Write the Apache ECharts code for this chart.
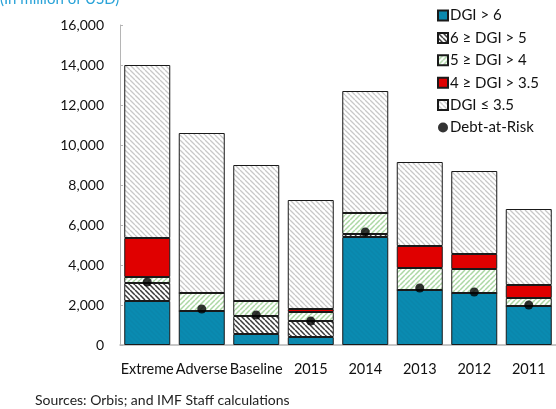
<!DOCTYPE html>
<html>
<head>
<meta charset="utf-8">
<script src="https://cdn.jsdelivr.net/npm/echarts@6/dist/echarts.min.js"></script>
<style>
  html, body { margin: 0; padding: 0; background: #fff; }
  #chart { width: 556px; height: 409px; }
</style>
</head>
<body>
<div id="chart"></div>
<script>
// data, in million of USD
var categories = ['Extreme', 'Adverse', 'Baseline', '2015', '2014', '2013', '2012', '2011'];
var dgiAbove6 = [2200, 1700, 550, 400, 5400, 2750, 2600, 1950];
var dgi5to6 = [900, 0, 900, 800, 150, 0, 0, 0];
var dgi4to5 = [300, 900, 750, 450, 1050, 1100, 1200, 400];
var dgi35to4 = [1950, 0, 0, 150, 0, 1100, 750, 650];
var dgiBelow35 = [8650, 8000, 6800, 5450, 6100, 4200, 4150, 3800];
var debtAtRisk = [3150, 1800, 1500, 1200, 5650, 2850, 2650, 2000];
var yTicks = [0, 2000, 4000, 6000, 8000, 10000, 12000, 14000, 16000];

var font = 'Lato, "Open Sans", sans-serif';

// small canvas tiles for the hatched fills
function stripes(bg, fg, dir, width) {
    var s = 5;
    var c = document.createElement('canvas');
    c.width = s; c.height = s;
    var ctx = c.getContext('2d');
    ctx.fillStyle = bg;
    ctx.fillRect(0, 0, s, s);
    ctx.strokeStyle = fg;
    ctx.lineWidth = width;
    ctx.beginPath();
    for (var k = -2; k <= 2; k++) {
        if (dir > 0) {
            ctx.moveTo(k * s, s); ctx.lineTo(k * s + s, 0);
        } else {
            ctx.moveTo(k * s, 0); ctx.lineTo(k * s + s, s);
        }
    }
    ctx.stroke();
    return { image: c, repeat: 'repeat' };
}

var blueFill = stripes('#0a8bb1', '#0b86ab', -1, 1.4);
var blackHatch = stripes('#ffffff', '#3a3a3a', -1, 1.5);
var greenHatch = stripes('#ffffff', '#acd8a4', 1, 1.5);
var greyHatch = stripes('#ffffff', '#c8c8c8', -1, 1.3);

function barSeries(name, data, fill) {
    return {
        name: name,
        type: 'bar',
        stack: 'dgi',
        barWidth: 46,
        data: data,
        itemStyle: { color: fill, borderColor: '#1a1a1a', borderWidth: 1 }
    };
}

var chart = echarts.init(document.getElementById('chart'));
chart.setOption({
    animation: false,
    textStyle: { fontFamily: font },
    grid: { left: 120, right: -4, top: 25, bottom: 64 },
    graphic: [
        {
            type: 'text', left: 0, top: -8,
            style: { text: '(In million of USD)', fill: '#2aa3d8', font: '15px ' + font }
        },
        {
            type: 'text', left: 35, top: 393,
            style: { text: 'Sources: Orbis; and IMF Staff calculations', fill: '#222', font: '14px ' + font }
        }
    ],
    legend: {
        orient: 'vertical',
        left: 437,
        top: 8,
        padding: 0,
        itemWidth: 10,
        itemHeight: 10,
        itemGap: 7.4,
        textStyle: { fontSize: 15, lineHeight: 14, color: '#111', padding: [0, 0, 0, -3] },
        data: [
            { name: 'DGI > 6', icon: 'rect' },
            { name: '6 ≥ DGI > 5', icon: 'rect' },
            { name: '5 ≥ DGI > 4', icon: 'rect' },
            { name: '4 ≥ DGI > 3.5', icon: 'rect' },
            { name: 'DGI ≤ 3.5', icon: 'rect' },
            { name: 'Debt-at-Risk', icon: 'circle' }
        ]
    },
    xAxis: {
        type: 'category',
        data: categories,
        axisLine: { lineStyle: { color: '#b5b5b5', width: 1.5 } },
        axisTick: { inside: true, length: 5, lineStyle: { color: '#b5b5b5' } },
        axisLabel: { color: '#111', fontSize: 14.5, margin: 17, interval: 0 }
    },
    yAxis: {
        type: 'value',
        min: 0,
        max: 16000,
        interval: 2000,
        axisLine: { show: true, lineStyle: { color: '#b5b5b5' } },
        axisTick: { show: true, inside: true, length: 3, lineStyle: { color: '#b5b5b5' } },
        splitLine: { show: false },
        axisLabel: {
            color: '#111', fontSize: 14, margin: 16,
            formatter: function (v) {
                return yTicks.indexOf(v) >= 0 ? v.toLocaleString('en-US') : '';
            }
        }
    },
    series: [
        barSeries('DGI > 6', dgiAbove6, blueFill),
        barSeries('6 ≥ DGI > 5', dgi5to6, blackHatch),
        barSeries('5 ≥ DGI > 4', dgi4to5, greenHatch),
        barSeries('4 ≥ DGI > 3.5', dgi35to4, '#e00000'),
        barSeries('DGI ≤ 3.5', dgiBelow35, greyHatch),
        {
            name: 'Debt-at-Risk',
            type: 'scatter',
            data: debtAtRisk,
            symbolSize: 9,
            z: 5,
            itemStyle: { color: '#000' }
        }
    ]
});
</script>
</body>
</html>
